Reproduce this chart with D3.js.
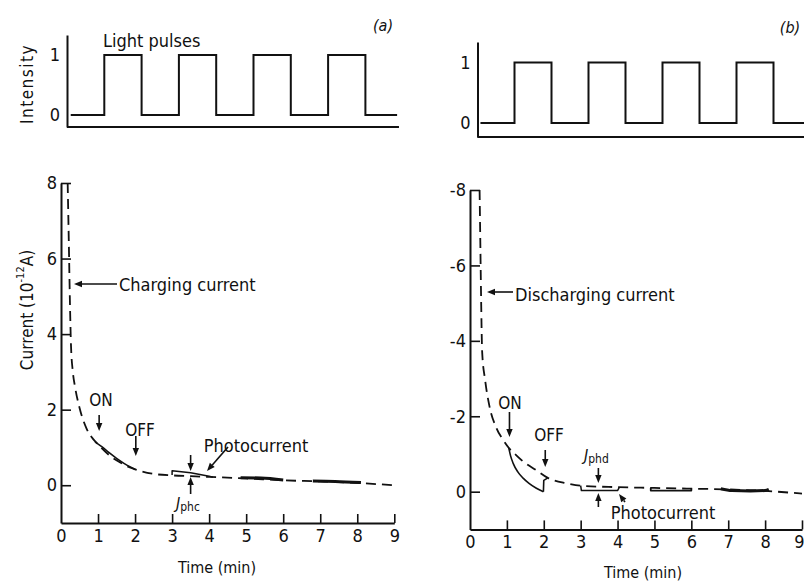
<!DOCTYPE html>
<html><head><meta charset="utf-8">
<script src="https://cdn.jsdelivr.net/npm/d3@7"></script>
<style>
body{margin:0;background:#fff}
svg{display:block}
text{font-family:"DejaVu Sans Condensed","DejaVu Sans",sans-serif;fill:#111}
</style>
</head><body>
<svg id="c" width="804" height="581"></svg>
<script>
// ---------------- data ----------------
const timeTicks = [0,1,2,3,4,5,6,7,8,9];
const currentTicksA = [0,2,4,6,8];
const currentTicksB = [0,-2,-4,-6,-8];
const intensityTicks = [0,1];

const lightTimesA  = [0.1,1,2,3,4,5,6,7,8,8.85];
const lightLevelsA = [0,1,0,1,0,1,0,1,0,0];
const lightTimesB  = [0.08,1,2,3,4,5,6,7,8,9];
const lightLevelsB = [0,1,0,1,0,1,0,1,0,0];

// (a) charging current (dashed), 10^-12 A
const chargeT = [0.18,0.21,0.24,0.27,0.32,0.38,0.5,0.69,0.87,1.0,1.32,1.6,1.86,2.0,2.5,3.0,3.5,4.0,5.0,6.0,7.0,8.0,9.0];
const chargeI = [8.0,6.5,4.9,3.7,3.0,2.6,2.05,1.5,1.22,1.08,0.78,0.6,0.47,0.42,0.3,0.26,0.24,0.22,0.18,0.13,0.1,0.06,0.0];
// (a) photocurrent segments (solid)
const photoA1T = [0.92,1.1,1.3,1.5,1.7,1.9,2.0];
const photoA1I = [1.15,1.02,0.86,0.71,0.58,0.47,0.42];
const photoA2T = [3.0,3.0,3.5,4.0,4.1];
const photoA2I = [0.27,0.38,0.33,0.24,0.21];
const photoA3T = [4.85,5.4,6.0];
const photoA3I = [0.2,0.19,0.14];
const photoA4T = [6.8,7.4,8.1];
const photoA4I = [0.11,0.1,0.07];

// (b) discharging current (dashed)
const dischT = [0.26,0.28,0.3,0.33,0.41,0.52,0.72,0.9,1.07,1.25,1.44,1.81,2.12,2.62,3.0,4.0,5.0,6.0,7.0,8.0,9.0];
const dischI = [-8.0,-6.6,-5.2,-3.7,-2.96,-2.3,-1.68,-1.37,-1.14,-0.97,-0.8,-0.56,-0.36,-0.22,-0.16,-0.12,-0.1,-0.08,-0.06,-0.02,0.05];
// (b) photocurrent segments (solid)
const photoB1T = [1.05,1.1,1.17,1.3,1.44,1.6,1.8,1.99];
const photoB1I = [-1.16,-0.95,-0.75,-0.52,-0.36,-0.22,-0.09,0.0];
const photoB1bT = [1.99,2.0,2.1];
const photoB1bI = [0.0,-0.3,-0.36];
const photoB2T = [3.0,3.02,4.0,4.05];
const photoB2I = [-0.16,-0.03,-0.03,-0.12];
const photoB3T = [4.9,4.9,6.0,6.0];
const photoB3I = [-0.1,-0.03,-0.03,-0.09];
const photoB4T = [6.8,7.1,7.6,8.0,8.1];
const photoB4I = [-0.08,-0.03,-0.02,-0.03,-0.06];

// ---------------- drawing ----------------
const svg = d3.select("#c");
const ink = "#111";
const zip = (a,b)=>a.map((t,i)=>[t,b[i]]);

// scales
const xAt = d3.scaleLinear([0,9],[67,402.7]);
const yAt = d3.scaleLinear([-0.2,1.333],[127,35]);
const xBt = d3.scaleLinear([0,9],[477.5,810.5]);
const yBt = d3.scaleLinear([-0.231,1.339],[137,42]);
const xA = d3.scaleLinear([0,9],[61,394.3]);
const yA = d3.scaleLinear([-1,8],[523,183]);
const xB = d3.scaleLinear([0,9],[470,802]);
const yB = d3.scaleLinear([1,-8],[529.4,190]);

function styleAxis(g, w){
  g.select(".domain").attr("stroke",ink).attr("stroke-width",w||2);
  g.selectAll(".tick line").attr("stroke",ink).attr("stroke-width",1.6);
  g.selectAll(".tick text").attr("font-size",18).attr("fill",ink)
   .style("font-family",'"DejaVu Sans Condensed","DejaVu Sans",sans-serif');
}

// --- top panels ---
function topPanel(x, y, times, levels, endT){
  const gy = svg.append("g").attr("transform",`translate(${x(0)},0)`)
    .call(d3.axisLeft(y).tickValues(intensityTicks).tickSize(0).tickPadding(7).tickFormat(d3.format("d")));
  styleAxis(gy);
  const gx = svg.append("g").attr("transform",`translate(0,${y.range()[0]})`)
    .call(d3.axisBottom(x).tickValues([]).tickSizeOuter(0));
  gx.select(".domain").attr("d",`M${x(0)},0H${x(endT)}`);
  styleAxis(gx);
  svg.append("path").datum(zip(times,levels))
    .attr("d", d3.line().x(d=>x(d[0])).y(d=>y(d[1])).curve(d3.curveStepAfter))
    .attr("fill","none").attr("stroke",ink).attr("stroke-width",2);
}
topPanel(xAt,yAt,lightTimesA,lightLevelsA,8.9);
topPanel(xBt,yBt,lightTimesB,lightLevelsB,9);

// --- bottom panels axes ---
function bottomAxes(x,y,yticks,fmt){
  const gx = svg.append("g").attr("transform",`translate(0,${y.range()[0]})`)
    .call(d3.axisBottom(x).tickValues(timeTicks).tickSizeInner(-9).tickSizeOuter(0).tickPadding(6));
  gx.selectAll(".tick").filter(d=>d===0).select("line").remove();
  styleAxis(gx);
  // keep the last label inside the page
  gx.selectAll(".tick").filter(d=>x(d)>796).select("text").attr("text-anchor","end").attr("x",2);
  const gy = svg.append("g").attr("transform",`translate(${x(0)},0)`)
    .call(d3.axisLeft(y).tickValues(yticks).tickSizeInner(-10).tickSizeOuter(0).tickPadding(4).tickFormat(fmt));
  styleAxis(gy);
}
bottomAxes(xA,yA,currentTicksA,d=>String(d));
bottomAxes(xB,yB,currentTicksB,d=>d===0?"0":"-"+Math.abs(d));

// --- curves ---
function curve(x,y,T,I,opts){
  const ln = d3.line().x(d=>x(d[0])).y(d=>y(d[1])).curve(opts.linear?d3.curveLinear:d3.curveMonotoneX);
  svg.append("path").datum(zip(T,I)).attr("d",ln)
    .attr("fill","none").attr("stroke",ink)
    .attr("stroke-width",opts.w||1.8)
    .attr("stroke-dasharray",opts.dash||null)
    .attr("stroke-linejoin","round");
}
curve(xA,yA,chargeT,chargeI,{dash:"10,6",w:1.8});
curve(xA,yA,photoA1T,photoA1I,{w:1.6});
curve(xA,yA,photoA2T,photoA2I,{w:1.5,linear:true});
curve(xA,yA,photoA3T,photoA3I,{w:3});
curve(xA,yA,photoA4T,photoA4I,{w:3});

curve(xB,yB,dischT,dischI,{dash:"10,6",w:1.8});
curve(xB,yB,photoB1T,photoB1I,{w:1.6});
curve(xB,yB,photoB1bT,photoB1bI,{w:1.6,linear:true});
curve(xB,yB,photoB2T,photoB2I,{w:1.5,linear:true});
curve(xB,yB,photoB3T,photoB3I,{w:1.8,linear:true});
curve(xB,yB,photoB4T,photoB4I,{w:3});

// --- annotations ---
function arrow(x1,y1,x2,y2){
  const a = Math.atan2(y2-y1,x2-x1), L=8, W=3.2;
  const bx = x2-L*Math.cos(a), by = y2-L*Math.sin(a);
  svg.append("line").attr("x1",x1).attr("y1",y1).attr("x2",bx).attr("y2",by)
    .attr("stroke",ink).attr("stroke-width",1.6);
  svg.append("path").attr("d",`M${x2},${y2}L${bx-W*Math.sin(a)},${by+W*Math.cos(a)}L${bx+W*Math.sin(a)},${by-W*Math.cos(a)}Z`)
    .attr("fill",ink);
}
function label(txt,x,y,anchor,size,extra){
  const t = svg.append("text").attr("x",x).attr("y",y).attr("text-anchor",anchor||"middle")
    .attr("dominant-baseline","central").attr("font-size",size||18).text(txt);
  if(extra) extra(t);
  return t;
}

// panel (a)
label("Light pulses",103,40,"start",18);
label("(a)",383,25,"middle",16,t=>t.attr("font-style","italic"));
label("Intensity",0,0,"middle",17,t=>t.attr("transform","translate(27,84) rotate(-90)").attr("letter-spacing",1.5));
{
  const t = svg.append("text").attr("transform","translate(27,310) rotate(-90)")
    .attr("text-anchor","middle").attr("dominant-baseline","central").attr("font-size",17);
  t.append("tspan").text("Current  (10");
  t.append("tspan").attr("font-size",11).attr("dy",-7).text("-12");
  t.append("tspan").attr("dy",7).text("A)");
}
label("Time  (min)",217,567,"middle",16);
arrow(117,284,74,284);
label("Charging current",119,284,"start",18);
label("ON",101,400,"middle",17);
arrow(xA(1.03),415,xA(1.03),431);
label("OFF",140,430,"middle",17);
arrow(xA(2.02),436,xA(2.02),456);
label("Photocurrent",256,445,"middle",18);
arrow(228,447,207,471);
arrow(xA(3.5),455,xA(3.5),471);
arrow(xA(3.5),494,xA(3.5),477);
{
  const t = svg.append("text").attr("x",176).attr("y",503).attr("dominant-baseline","central").attr("font-size",16);
  t.append("tspan").attr("font-style","italic").text("J");
  t.append("tspan").attr("font-size",12).attr("dy",4).text("phc");
}

// panel (b)
label("(b)",790,27,"middle",16,t=>t.attr("font-style","italic"));
arrow(513,292,487,292);
label("Discharging current",515,294,"start",18);
label("ON",510,403,"middle",17);
arrow(xB(1.07),412,xB(1.07),437);
label("OFF",549,435,"middle",17);
arrow(xB(2.04),450,xB(2.04),467);
arrow(xB(3.48),468,xB(3.48),483);
arrow(xB(3.48),507,xB(3.48),493);
{
  const t = svg.append("text").attr("x",584).attr("y",455).attr("dominant-baseline","central").attr("font-size",16);
  t.append("tspan").attr("font-style","italic").text("J");
  t.append("tspan").attr("font-size",12).attr("dy",4).text("phd");
}
label("Photocurrent",663,512,"middle",18);
arrow(625,502,619,494);
label("Time  (min)",643,572,"middle",16);
</script>
</body></html>
